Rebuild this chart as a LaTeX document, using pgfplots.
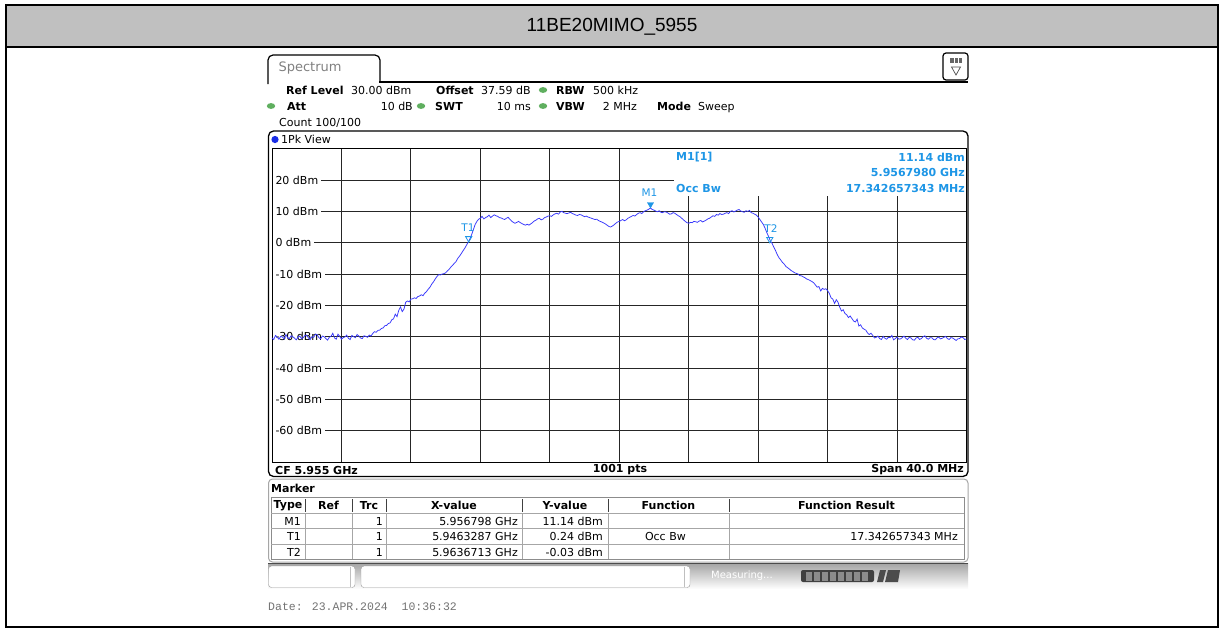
\documentclass[border=0pt]{standalone}
\usepackage{fontspec}
\setmainfont{DejaVu Sans}
\newfontfamily\arialf{Liberation Sans}
\newfontfamily\monof{Liberation Mono}
\usepackage{pgfplots}
\usepackage{pgfplotstable}
\pgfplotsset{compat=1.18}
\definecolor{trace}{RGB}{55,55,252}
\definecolor{mblue}{RGB}{30,150,230}
\definecolor{ledgreen}{RGB}{95,175,95}
\definecolor{titlegray}{RGB}{192,192,192}
\definecolor{dotblue}{RGB}{25,45,230}

\pgfplotstableread{
f p
0.0 -30.4
0.1 -30.9
0.2 -29.6
0.3 -30.2
0.4 -30.8
0.5 -29.9
0.6 -30.1
0.7 -30.7
0.8 -29.3
0.9 -30.3
1.0 -30.6
1.1 -29.7
1.2 -30.0
1.3 -30.5
1.4 -31.0
1.5 -30.1
1.6 -29.8
1.7 -30.6
1.8 -30.3
1.9 -29.6
2.0 -29.5
2.1 -30.4
2.2 -30.9
2.3 -30.0
2.4 -30.2
2.5 -29.2
2.6 -29.4
2.7 -30.3
2.8 -30.7
2.9 -29.8
3.0 -30.0
3.1 -30.6
3.2 -31.1
3.3 -30.2
3.4 -29.9
3.5 -28.9
3.6 -30.4
3.7 -30.8
3.8 -29.2
3.9 -29.9
4.0 -30.8
4.1 -30.3
4.2 -30.1
4.3 -29.5
4.4 -30.5
4.5 -30.9
4.6 -29.6
4.7 -30.0
4.8 -30.3
4.9 -29.3
5.0 -29.8
5.1 -30.4
5.2 -30.6
5.3 -29.7
5.4 -29.9
5.5 -30.2
5.6 -29.5
5.7 -29.8
5.8 -29.0
5.9 -28.4
6.0 -28.6
6.1 -28.0
6.2 -27.9
6.3 -27.4
6.4 -27.2
6.5 -26.5
6.6 -26.4
6.7 -25.8
6.8 -25.6
6.9 -24.6
7.0 -24.3
7.1 -22.8
7.2 -23.6
7.3 -21.6
7.4 -20.5
7.5 -22.0
7.6 -21.2
7.7 -19.0
7.8 -18.6
7.9 -18.9
8.0 -18.0
8.1 -17.9
8.2 -17.6
8.3 -17.8
8.4 -17.2
8.5 -17.0
8.6 -16.6
8.7 -16.9
8.8 -16.1
8.9 -15.6
9.0 -14.8
9.1 -14.2
9.2 -13.2
9.3 -12.5
9.4 -11.6
9.5 -10.8
9.6 -10.2
9.7 -10.3
9.8 -10.0
9.9 -9.9
10.0 -9.6
10.1 -9.0
10.2 -8.5
10.3 -7.8
10.4 -7.2
10.5 -6.6
10.6 -6.0
10.7 -5.0
10.8 -4.3
10.9 -3.5
11.0 -2.6
11.1 -1.8
11.2 -0.8
11.3 0.2
11.4 1.2
11.5 2.6
11.6 4.2
11.7 5.8
11.8 6.8
11.9 7.5
12.0 7.8
12.1 8.4
12.2 7.6
12.3 8.0
12.4 8.3
12.5 8.8
12.6 8.0
12.7 8.5
12.8 8.9
12.9 8.6
13.0 8.4
13.1 8.0
13.2 7.9
13.3 7.6
13.4 7.4
13.5 7.8
13.6 8.1
13.7 7.5
13.8 6.9
13.9 6.5
14.0 6.2
14.1 6.5
14.2 6.8
14.3 6.4
14.4 6.1
14.5 5.8
14.6 5.6
14.7 5.9
14.8 5.6
14.9 6.0
15.0 6.4
15.1 6.9
15.2 7.2
15.3 7.6
15.4 7.8
15.5 7.3
15.6 7.5
15.7 8.0
15.8 8.2
15.9 8.5
16.0 8.6
16.1 8.4
16.2 8.9
16.3 9.2
16.4 9.4
16.5 9.1
16.6 9.8
16.7 10.0
16.8 9.6
16.9 9.4
17.0 9.3
17.1 9.5
17.2 9.7
17.3 9.3
17.4 9.1
17.5 8.8
17.6 8.7
17.7 9.0
17.8 8.9
17.9 8.6
18.0 8.3
18.1 8.5
18.2 8.2
18.3 8.0
18.4 7.8
18.5 7.6
18.6 7.4
18.7 7.5
18.8 7.1
18.9 6.8
19.0 6.6
19.1 6.3
19.2 6.0
19.3 5.6
19.4 5.2
19.5 5.0
19.6 5.3
19.7 5.7
19.8 6.2
19.9 6.6
20.0 6.8
20.1 7.1
20.2 7.4
20.3 7.0
20.4 7.3
20.5 7.8
20.6 8.1
20.7 8.4
20.8 8.7
20.9 8.5
21.0 9.0
21.1 9.4
21.2 9.6
21.3 9.3
21.4 9.9
21.5 10.2
21.6 10.4
21.7 10.7
21.8 11.1
21.9 10.6
22.0 10.4
22.1 10.1
22.2 9.9
22.3 10.2
22.4 9.7
22.5 9.6
22.6 9.9
22.7 9.8
22.8 9.5
22.9 9.1
23.0 9.2
23.1 9.6
23.2 9.4
23.3 9.0
23.4 8.6
23.5 8.3
23.6 7.8
23.7 7.3
23.8 6.8
23.9 6.4
24.0 6.2
24.1 6.5
24.2 6.4
24.3 6.8
24.4 6.7
24.5 6.5
24.6 6.9
24.7 7.1
24.8 6.6
24.9 6.9
25.0 7.2
25.1 7.6
25.2 7.8
25.3 8.2
25.4 8.6
25.5 8.4
25.6 9.0
25.7 8.8
25.8 9.3
25.9 9.0
26.0 9.1
26.1 9.4
26.2 9.6
26.3 9.3
26.4 10.0
26.5 10.2
26.6 9.8
26.7 10.1
26.8 10.4
26.9 10.6
27.0 10.1
27.1 9.9
27.2 9.7
27.3 10.2
27.4 10.0
27.5 10.3
27.6 9.6
27.7 9.4
27.8 9.1
27.9 8.8
28.0 8.2
28.1 7.4
28.2 6.6
28.3 5.8
28.4 4.6
28.5 3.2
28.6 2.0
28.7 0.6
28.8 -0.2
28.9 -1.4
29.0 -2.5
29.1 -3.8
29.2 -4.8
29.3 -5.5
29.4 -6.3
29.5 -6.8
29.6 -7.6
29.7 -8.0
29.8 -8.4
29.9 -8.9
30.0 -9.2
30.1 -9.6
30.2 -9.8
30.3 -10.0
30.4 -10.5
30.5 -10.6
30.6 -10.9
30.7 -11.2
30.8 -11.6
30.9 -11.8
31.0 -12.1
31.1 -12.4
31.2 -12.8
31.3 -13.5
31.4 -14.2
31.5 -14.0
31.6 -15.4
31.7 -14.6
31.8 -14.9
31.9 -14.7
32.0 -15.3
32.1 -16.2
32.2 -17.6
32.3 -18.0
32.4 -19.4
32.5 -18.2
32.6 -19.0
32.7 -20.6
32.8 -21.8
32.9 -21.4
33.0 -22.6
33.1 -23.0
33.2 -23.9
33.3 -23.4
33.4 -24.2
33.5 -25.0
33.6 -25.3
33.7 -24.4
33.8 -26.6
33.9 -26.2
34.0 -27.2
34.1 -27.6
34.2 -27.9
34.3 -28.8
34.4 -29.3
34.5 -28.9
34.6 -29.6
34.7 -30.4
34.8 -30.2
34.9 -29.8
35.0 -30.6
35.1 -30.9
35.2 -29.9
35.3 -30.5
35.4 -30.8
35.5 -30.2
35.6 -30.3
35.7 -29.6
35.8 -31.0
35.9 -30.6
36.0 -30.1
36.1 -30.8
36.2 -30.7
36.3 -30.3
36.4 -29.8
36.5 -30.5
36.6 -30.9
36.7 -30.2
36.8 -30.4
36.9 -31.0
37.0 -31.1
37.1 -30.4
37.2 -30.2
37.3 -30.9
37.4 -30.6
37.5 -30.0
37.6 -29.7
37.7 -30.5
37.8 -30.8
37.9 -30.3
38.0 -30.3
38.1 -30.9
38.2 -31.0
38.3 -30.4
38.4 -30.1
38.5 -30.7
38.6 -30.5
38.7 -30.2
38.8 -29.9
38.9 -30.6
39.0 -30.9
39.1 -30.3
39.2 -30.4
39.3 -30.8
39.4 -31.2
39.5 -30.7
39.6 -30.6
39.7 -30.1
39.8 -30.3
39.9 -30.9
40.0 -30.7
}\tracedata

\begin{document}
\begin{tikzpicture}
\begin{scope}[x=1pt,y=-1pt]
\path[use as bounding box] (0,0) rectangle (1224,630);
\fill[white] (0,0) rectangle (1224,630);
\fill[titlegray] (6,5) rectangle (1218,46);
\draw[line width=2pt] (6,47) -- (1218,47);
\draw[line width=2pt] (6,5) rectangle (1218,627);
\node[font=\arialf\fontsize{19}{22}\selectfont] at (612,27) {11BE20MIMO\_5955};
% tab
\draw[line width=1.2pt, rounded corners=5pt] (268,84) -- (268,55) -- (380,55) -- (380,82);
\draw[line width=1.2pt] (379.4,82) -- (968,82);
\node[anchor=west, text=black!50, font=\fontsize{13}{15}\selectfont] at (275,68) {Spectrum};
% icon
\draw[line width=1.2pt, rounded corners=3pt] (943,53) rectangle (968,80);
\fill[black!60] (950,58) rectangle (962,63);
\draw[white, line width=0.6pt] (954,58) -- (954,63) (958,58) -- (958,63);
\draw[black!70, line width=0.7pt] (951.5,67) -- (960.5,67) -- (956,75) -- cycle;
% info lines
\begin{scope}[every node/.style={inner sep=0pt, font=\fontsize{11}{13}\selectfont}]
\node[anchor=base west] at (286,94) {\textbf{Ref Level}};
\node[anchor=base west] at (351,94) {30.00 dBm};
\node[anchor=base west] at (436,94) {\textbf{Offset}};
\node[anchor=base west] at (481,94) {37.59 dB};
\node[anchor=base west] at (556,94) {\textbf{RBW}};
\node[anchor=base west] at (593,94) {500 kHz};
\node[anchor=base west] at (287,110) {\textbf{Att}};
\node[anchor=base east] at (413,110) {10 dB};
\node[anchor=base west] at (435,110) {\textbf{SWT}};
\node[anchor=base east] at (531,110) {10 ms};
\node[anchor=base west] at (556,110) {\textbf{VBW}};
\node[anchor=base east] at (637,110) {2 MHz};
\node[anchor=base west] at (657,110) {\textbf{Mode}};
\node[anchor=base west] at (698,110) {Sweep};
\node[anchor=base west] at (279,126) {Count 100/100};
\node[anchor=west] at (281,139.5) {1Pk View};
\end{scope}
\fill[ledgreen] (543,90) ellipse (4.2pt and 2.9pt);
\fill[ledgreen] (271,106) ellipse (4.2pt and 2.9pt);
\fill[ledgreen] (421,106) ellipse (4.2pt and 2.9pt);
\fill[ledgreen] (543,106) ellipse (4.2pt and 2.9pt);
\fill[dotblue] (275,139.5) circle (3.6pt);
% main frame
\draw[line width=1.3pt, rounded corners=5pt] (268.5,131) rectangle (968,476.5);
\end{scope}

\begin{axis}[at={(272pt,-462pt)}, anchor=south west, scale only axis,
  width=694.5pt, height=313.3pt, xmin=0, xmax=40, ymin=-70, ymax=30,
  xtick={0,4,...,40}, ytick={-70,-60,...,30},
  xticklabels={}, yticklabels={}, major tick length=0pt,
  grid=major, grid style={black!85, line width=0.9pt},
  axis line style={black, line width=1pt}, clip=false]
\fill[white] (axis cs:23.17,29.75) rectangle (axis cs:39.96,14.9);
\foreach \v in {20,10,0,-10,-20,-30,-40,-50,-60} {
  \edef\temp{\noexpand\node[anchor=west, fill=white, inner xsep=2.6pt, inner ysep=1pt, xshift=0.7pt, font=\noexpand\fontsize{11}{13}\noexpand\selectfont] at (axis cs:0,\v) {\v\space dBm};}
  \temp
}
\addplot[trace, line width=0.75pt] table[x=f, y=p] {\tracedata};
\addplot[only marks, mark=triangle*, mark size=3.6pt, mark options={rotate=180, fill=mblue, draw=mblue}] coordinates {(21.80,12.25)};
\addplot[only marks, mark=triangle, mark size=3.6pt, mark options={rotate=180, draw=mblue, line width=0.8pt}] coordinates {(11.33,1.36) (28.67,1.09)};
\end{axis}

\begin{scope}[x=1pt,y=-1pt]
% marker info box
\fill[white] (674,149.6) rectangle (965.6,196);
\begin{scope}[every node/.style={inner sep=0pt, text=mblue, font=\bfseries\fontsize{11}{13}\selectfont}]
\node[anchor=west] at (676,157) {M1[1]};
\node[anchor=east] at (965,157) {11.14 dBm};
\node[anchor=east] at (965,172.5) {5.9567980 GHz};
\node[anchor=west] at (676,188) {Occ Bw};
\node[anchor=east] at (965,188) {17.342657343 MHz};
\end{scope}
\begin{scope}[every node/.style={inner sep=0pt, text=mblue, font=\fontsize{10.5}{12}\selectfont}]
\node at (649.5,192.5) {M1};
\node at (468,227.5) {T1};
\node at (771,229) {T2};
\end{scope}
% bottom row
\begin{scope}[every node/.style={inner sep=0pt, font=\bfseries\fontsize{11}{13}\selectfont}]
\node[anchor=west] at (275,470) {CF 5.955 GHz};
\node at (620,470) {1001 pts};
\node[anchor=east] at (964,470) {Span 40.0 MHz};
\end{scope}
% marker panel
\draw[black!35, line width=1pt, rounded corners=4pt] (268.5,479) rectangle (968,562);
\node[anchor=west, inner sep=0pt, font=\bfseries\fontsize{11}{13}\selectfont] at (271,488) {Marker};
\draw[black!45, line width=0.8pt] (271,497) rectangle (964,559);
\foreach \yy in {513,528.5,544} {\draw[black!35, line width=0.8pt] (271,\yy) -- (964,\yy);}
\foreach \xx in {305,352,386,522,608,729} {\draw[black!35, line width=0.8pt] (\xx,513) -- (\xx,559);}
\foreach \xx in {305,352,386,522,608,729} {\draw[black!75, line width=1pt] (\xx,499) -- (\xx,512);}
\begin{scope}[every node/.style={inner sep=0pt, font=\bfseries\fontsize{11}{13}\selectfont}]
\node at (288,505.5) {Type};
\node at (328.5,505.5) {Ref};
\node at (369,505.5) {Trc};
\node at (454,505.5) {X-value};
\node at (565,505.5) {Y-value};
\node at (668.5,505.5) {Function};
\node at (846.5,505.5) {Function Result};
\end{scope}
\begin{scope}[every node/.style={inner sep=0pt, anchor=east, font=\fontsize{11}{13}\selectfont}]
\node at (301,521) {M1};
\node at (383,521) {1};
\node at (518,521) {5.956798 GHz};
\node at (603,521) {11.14 dBm};
\node at (301,536.5) {T1};
\node at (383,536.5) {1};
\node at (518,536.5) {5.9463287 GHz};
\node at (603,536.5) {0.24 dBm};
\node at (686,536.5) {Occ Bw};
\node at (958,536.5) {17.342657343 MHz};
\node at (301,552) {T2};
\node at (383,552) {1};
\node at (518,552) {5.9636713 GHz};
\node at (603,552) {-0.03 dBm};
\end{scope}
% status bar
\shade[top color=black!35, bottom color=white] (268,563.5) rectangle (968,589);
\draw[black!70, line width=1pt] (268,563.5) -- (968,563.5);
\draw[black!40, fill=white, rounded corners=3pt] (268.5,566) rectangle (355,587.5);
\draw[black!25] (350,567) -- (350,586.5);
\draw[black!40, fill=white, rounded corners=3pt] (361,566) rectangle (690,587.5);
\draw[black!25] (684,567) -- (684,586.5);
\node[anchor=west, inner sep=0pt, text=white, font=\fontsize{10}{12}\selectfont] at (711,576) {Measuring...};
\fill[black!75, rounded corners=2pt] (801,570) rectangle (874,582);
\foreach \xx in {806,814,...,862} {\fill[black!45] (\xx,571.5) rectangle (\xx+6,580.5);}
\fill[black!70] (880,570) -- (886,570) -- (883,582) -- (877,582) -- cycle;
\fill[black!70] (888,570) -- (900,570) -- (898,582) -- (885,582) -- cycle;
% date
\node[anchor=west, inner sep=0pt, text=black!55, font=\monof\fontsize{11.5}{13}\selectfont] at (268,607) {Date: 23.APR.2024\ \ 10:36:32};
\end{scope}
\end{tikzpicture}
\end{document}
